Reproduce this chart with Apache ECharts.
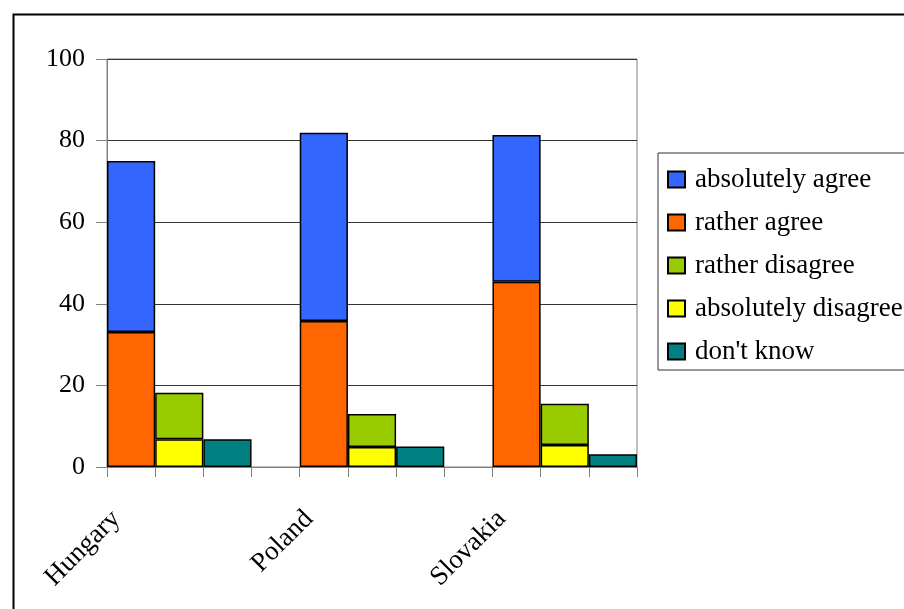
<!DOCTYPE html>
<html>
<head>
<meta charset="utf-8">
<script src="https://cdn.jsdelivr.net/npm/echarts@6/dist/echarts.min.js"></script>
<style>html,body{margin:0;padding:0;background:#fff}#c{width:904px;height:609px}</style>
</head>
<body>
<div id="c"></div>
<script>
const categories = ['Hungary', 'Poland', 'Slovakia'];
const ratherAgree = [33.1, 35.8, 45.4];
const absolutelyAgree = [41.9, 46.1, 36.0];
const absolutelyDisagree = [6.8, 4.9, 5.4];
const ratherDisagree = [11.4, 8.1, 10.1];
const dontKnow = [6.8, 5.0, 3.1];
const yTicks = [0, 20, 40, 60, 80, 100];

// Layout: each country has 3 adjacent slots, followed by an empty slot.
const slotNames = [];
const slotLabel = {};
categories.forEach((c, i) => {
  for (let k = 0; k < 3; k++) {
    const n = c + '_' + k;
    slotNames.push(n);
    slotLabel[n] = k === 0 ? c : '';
  }
  if (i < categories.length - 1) { const g = 'gap_' + i; slotNames.push(g); slotLabel[g] = ''; }
});
function place(values, offset) {
  const arr = slotNames.map(() => '-');
  values.forEach((v, i) => { arr[i * 4 + offset] = v; });
  return arr;
}
const FONT = 'Liberation Serif';
const border = { borderColor: '#000', borderWidth: 1.5 };
function s(name, values, offset, color) {
  return { name, type: 'bar', stack: 'all', data: place(values, offset),
    barCategoryGap: 0, itemStyle: Object.assign({ color }, border) };
}
const chart = echarts.init(document.getElementById('c'), null, { renderer: 'canvas' });
chart.setOption({
  animation: false,
  backgroundColor: '#fff',
  textStyle: { fontFamily: FONT },
  graphic: [{ type: 'rect', left: 11, top: 12, shape: { x: 0, y: 0, width: 1000, height: 700 },
    style: { fill: 'none', stroke: '#000', lineWidth: 2 }, silent: true, z: -1 }],
  grid: { left: 107, right: 267, top: 59, bottom: 142, show: true, borderColor: '#808080', borderWidth: 1, backgroundColor: 'transparent' },
  legend: {
    orient: 'vertical', left: 658, top: 153,
    data: ['absolutely agree', 'rather agree', 'rather disagree', 'absolutely disagree', "don't know"],
    borderColor: '#333', borderWidth: 1, padding: [13, 40, 5, 9],
    itemWidth: 17, itemHeight: 16, itemGap: 16,
    textStyle: { fontFamily: FONT, fontSize: 27, color: '#000', lineHeight: 26, padding: [0, 0, 0, 5] },
    icon: 'rect'
  },
  xAxis: {
    type: 'category', data: slotNames, boundaryGap: true,
    axisLine: { lineStyle: { color: '#808080', width: 1 } },
    axisTick: { show: true, interval: 0, length: 10, lineStyle: { color: '#808080' } },
    axisLabel: { interval: 0, rotate: 45, margin: 33, fontFamily: FONT, fontSize: 27, color: '#000',
      padding: [0, 21, 0, 0], formatter: v => slotLabel[v] },
    splitLine: { show: false }
  },
  yAxis: {
    type: 'value', min: yTicks[0], max: yTicks[yTicks.length - 1], interval: 20,
    axisLine: { show: true, lineStyle: { color: '#808080' } },
    axisTick: { show: true, length: 11, lineStyle: { color: '#808080' } },
    axisLabel: { margin: 22, fontFamily: FONT, fontSize: 26, color: '#000' },
    splitLine: { lineStyle: { color: '#333', width: 1 } }
  },
  series: [
    s('rather agree', ratherAgree, 0, '#FF6600'),
    s('absolutely agree', absolutelyAgree, 0, '#3366FF'),
    s('absolutely disagree', absolutelyDisagree, 1, '#FFFF00'),
    s('rather disagree', ratherDisagree, 1, '#99CC00'),
    s("don't know", dontKnow, 2, '#008080')
  ]
});
</script>
</body>
</html>
